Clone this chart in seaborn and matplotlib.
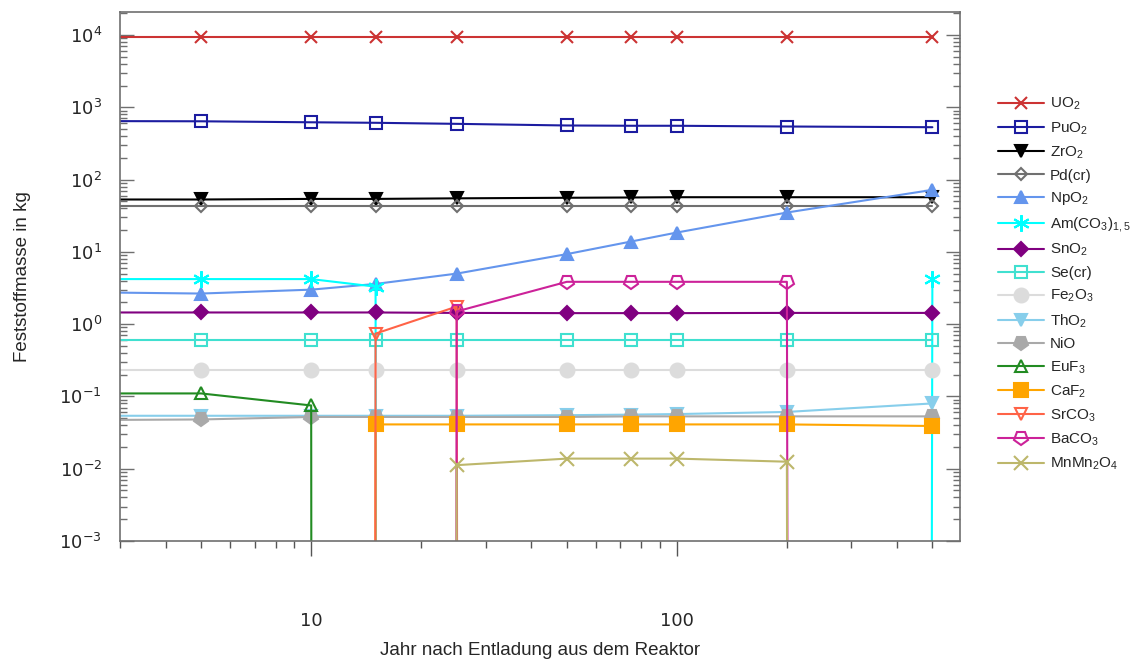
import numpy as np
import matplotlib as mpl
mpl.use("Agg")
import matplotlib.pyplot as plt
import seaborn as sns
from matplotlib.markers import MarkerStyle
from matplotlib.transforms import Affine2D
from matplotlib.ticker import LogLocator, NullFormatter, FixedLocator

# years after discharge (first point lies left of the visible range)
years = [1, 5, 10, 15, 25, 50, 75, 100, 200, 500]

uo2 = [9300, 9300, 9300, 9300, 9300, 9300, 9300, 9300, 9300, 9300]
puo2 = [650, 640, 620, 610, 590, 560, 555, 555, 542, 530]
zro2 = [53, 53, 54, 54, 55, 56, 56.5, 57, 57, 57]
pd_cr = [43, 43, 43, 43, 43, 43, 43, 43, 43, 43]
npo2 = [2.9, 2.65, 3.0, 3.6, 5.0, 9.3, 13.9, 18.5, 35, 72]
am_co3 = [4.2, 4.2, 4.2, 3.3, 0, 0, 0, 0, 0, 4.2]
sno2 = [1.45, 1.45, 1.45, 1.45, 1.43, 1.42, 1.42, 1.42, 1.43, 1.43]
se_cr = [0.6, 0.6, 0.6, 0.6, 0.6, 0.6, 0.6, 0.6, 0.6, 0.6]
fe2o3 = [0.23, 0.23, 0.23, 0.23, 0.23, 0.23, 0.23, 0.23, 0.23, 0.23]
tho2 = [0.054, 0.054, 0.054, 0.054, 0.054, 0.055, 0.056, 0.057, 0.061, 0.08]
nio = [0.046, 0.048, 0.052, 0.052, 0.052, 0.052, 0.053, 0.053, 0.053, 0.053]
euf3 = [0.11, 0.11, 0.075, 0, 0, 0, 0, 0, 0, 0]
caf2 = [0, 0, 0, 0.041, 0.041, 0.041, 0.041, 0.041, 0.041, 0.039]
srco3 = [0, 0, 0, 0.74, 1.75, 0, 0, 0, 0, 0]
baco3 = [0, 0, 0, 0, 1.5, 3.85, 3.85, 3.85, 3.85, 0]
mnmn2o4 = [0, 0, 0, 0, 0.0112, 0.0138, 0.0138, 0.0138, 0.0125, 0]

sns.set_style("white")
plt.rcParams["font.family"] = ["DejaVu Sans"]
plt.rcParams["mathtext.default"] = "regular"
plt.rcParams["axes.unicode_minus"] = False

pent_down = MarkerStyle("p", transform=Affine2D().rotate_deg(180))

# label, values, color, marker, size, filled
series = [
    ("UO$_2$", uo2, "#cc3333", "x", 9, True),
    ("PuO$_2$", puo2, "#1c1ca0", "s", 9, False),
    ("ZrO$_2$", zro2, "black", "v", 9, True),
    ("Pd(cr)", pd_cr, "#707070", "D", 6, False),
    ("NpO$_2$", npo2, "cornflowerblue", "^", 9, True),
    ("Am(CO$_3$)$_{1,5}$", am_co3, "cyan", (6, 2, 0), 12, True),
    ("SnO$_2$", sno2, "purple", "D", 7, True),
    ("Se(cr)", se_cr, "turquoise", "s", 9, False),
    ("Fe$_2$O$_3$", fe2o3, "gainsboro", "o", 10, True),
    ("ThO$_2$", tho2, "skyblue", "v", 9, True),
    ("NiO", nio, "darkgray", pent_down, 10, True),
    ("EuF$_3$", euf3, "forestgreen", "^", 8, False),
    ("CaF$_2$", caf2, "orange", "s", 10, True),
    ("SrCO$_3$", srco3, "tomato", "v", 8, False),
    ("BaCO$_3$", baco3, "#cc2299", pent_down, 10, False),
    ("MnMn$_2$O$_4$", mnmn2o4, "darkkhaki", "x", 10, True),
]

fig = plt.figure(figsize=(11.32, 6.59), dpi=100)
ax = fig.add_axes([120 / 1132, 118 / 659, 840 / 1132, 529 / 659])

for label, vals, col, mk, ms, filled in series:
    sns.lineplot(x=years, y=vals, ax=ax, color=col, marker=mk, markersize=ms,
                 markerfacecolor=col if filled else "none", markeredgecolor=col,
                 markeredgewidth=1.5, linewidth=1.5, estimator=None,
                 label=label, legend=False)

ax.set_xscale("log")
ax.set_yscale("log")
ax.set_xlim(3, 595)
ax.set_ylim(1e-3, 2.08e4)

ax.set_xticks([10, 100], labels=["10", "100"])
ax.xaxis.set_minor_locator(LogLocator(base=10, subs=np.arange(2, 10), numticks=50))
ax.xaxis.set_minor_formatter(NullFormatter())
ax.yaxis.set_major_locator(FixedLocator([1e-3, 1e-2, 1e-1, 1, 10, 100, 1e3, 1e4]))
ax.yaxis.set_minor_locator(LogLocator(base=10, subs=np.arange(2, 10), numticks=100))
ax.yaxis.set_minor_formatter(NullFormatter())

for s in ax.spines.values():
    s.set_color("#6f6f6f")
    s.set_linewidth(1.2)

ax.tick_params(axis="y", which="both", direction="in", left=True, right=True,
               color="#6f6f6f", labelsize=13, pad=13)
ax.tick_params(axis="y", which="major", length=10, width=1)
ax.tick_params(axis="y", which="minor", length=5, width=1)
ax.tick_params(axis="x", which="both", direction="out", bottom=True, top=False,
               color="#555555", labelsize=13, pad=40)
ax.tick_params(axis="x", which="major", length=11, width=1)
ax.tick_params(axis="x", which="minor", length=5, width=1)

ax.set_xlabel("Jahr nach Entladung aus dem Reaktor", fontsize=13.5,
              family="Liberation Sans")
ax.set_ylabel("Feststoffmasse in kg", fontsize=13.5, family="Liberation Sans")
ax.xaxis.set_label_coords(0.5, -0.19)
ax.yaxis.set_label_coords(-0.106, 0.5)

handles, labels = ax.get_legend_handles_labels()
fig.legend(handles, labels, loc="upper left", bbox_to_anchor=(998 / 1132, 1 - 96 / 659),
           frameon=False, prop={"family": "Liberation Sans", "size": 11},
           handlelength=3.0, handletextpad=0.4, labelspacing=0.51, borderpad=0,
           borderaxespad=0)

plt.savefig("out.png", dpi=100)
